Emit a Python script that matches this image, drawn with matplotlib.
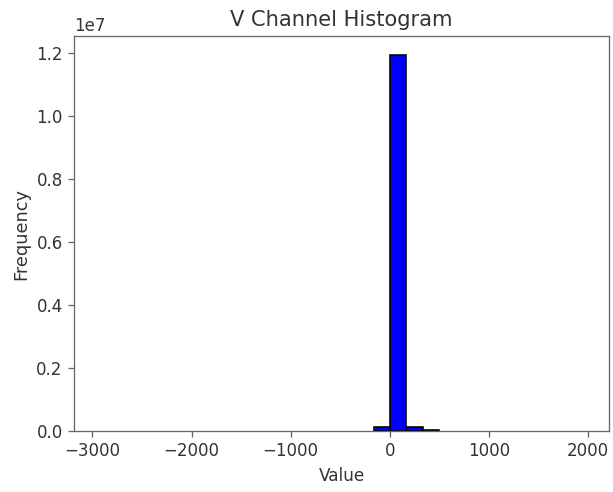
import numpy as np
import matplotlib
matplotlib.use("Agg")
import matplotlib.pyplot as plt

# Pixel value range of the V channel and the 30-bin counts
v_min = -2940
v_max = 1965
n_bins = 30
bin_counts = [
    2, 0, 0, 0, 0, 0, 0, 0, 0, 0,
    0, 0, 0, 0, 0, 0, 0, 120000, 11940000, 125000,
    40000, 0, 0, 0, 0, 0, 0, 0, 0, 3,
]

edges = np.linspace(v_min, v_max, n_bins + 1)
centers = (edges[:-1] + edges[1:]) / 2

plt.rcParams["text.color"] = "#333333"
plt.rcParams["axes.labelcolor"] = "#333333"
plt.rcParams["xtick.labelcolor"] = "#333333"
plt.rcParams["ytick.labelcolor"] = "#333333"
plt.rcParams["axes.edgecolor"] = "#666666"
plt.rcParams["xtick.color"] = "#666666"
plt.rcParams["ytick.color"] = "#666666"
plt.rcParams["xtick.labelsize"] = 10.3
plt.rcParams["ytick.labelsize"] = 10.3

dpi = 116
fig = plt.figure(figsize=(613 / dpi, 492 / dpi), dpi=dpi)
ax = fig.add_axes([74 / 613, 1 - 431 / 492, (609 - 74) / 613, (431 - 36) / 492])

counts, _, patches = ax.hist(centers, bins=edges, weights=bin_counts,
                             color="blue", edgecolor="black")
# bins too small to show would otherwise leave a flat outline on the baseline
for c, p in zip(counts, patches):
    if c < 1000:
        p.set_visible(False)

ax.set_title("V Channel Histogram", fontsize=13)
ax.set_xlabel("Value", fontsize=10.5)
ax.set_ylabel("Frequency", fontsize=11)
ax.yaxis.get_offset_text().set_fontsize(10.3)

fig.savefig("out.png", dpi=dpi)
